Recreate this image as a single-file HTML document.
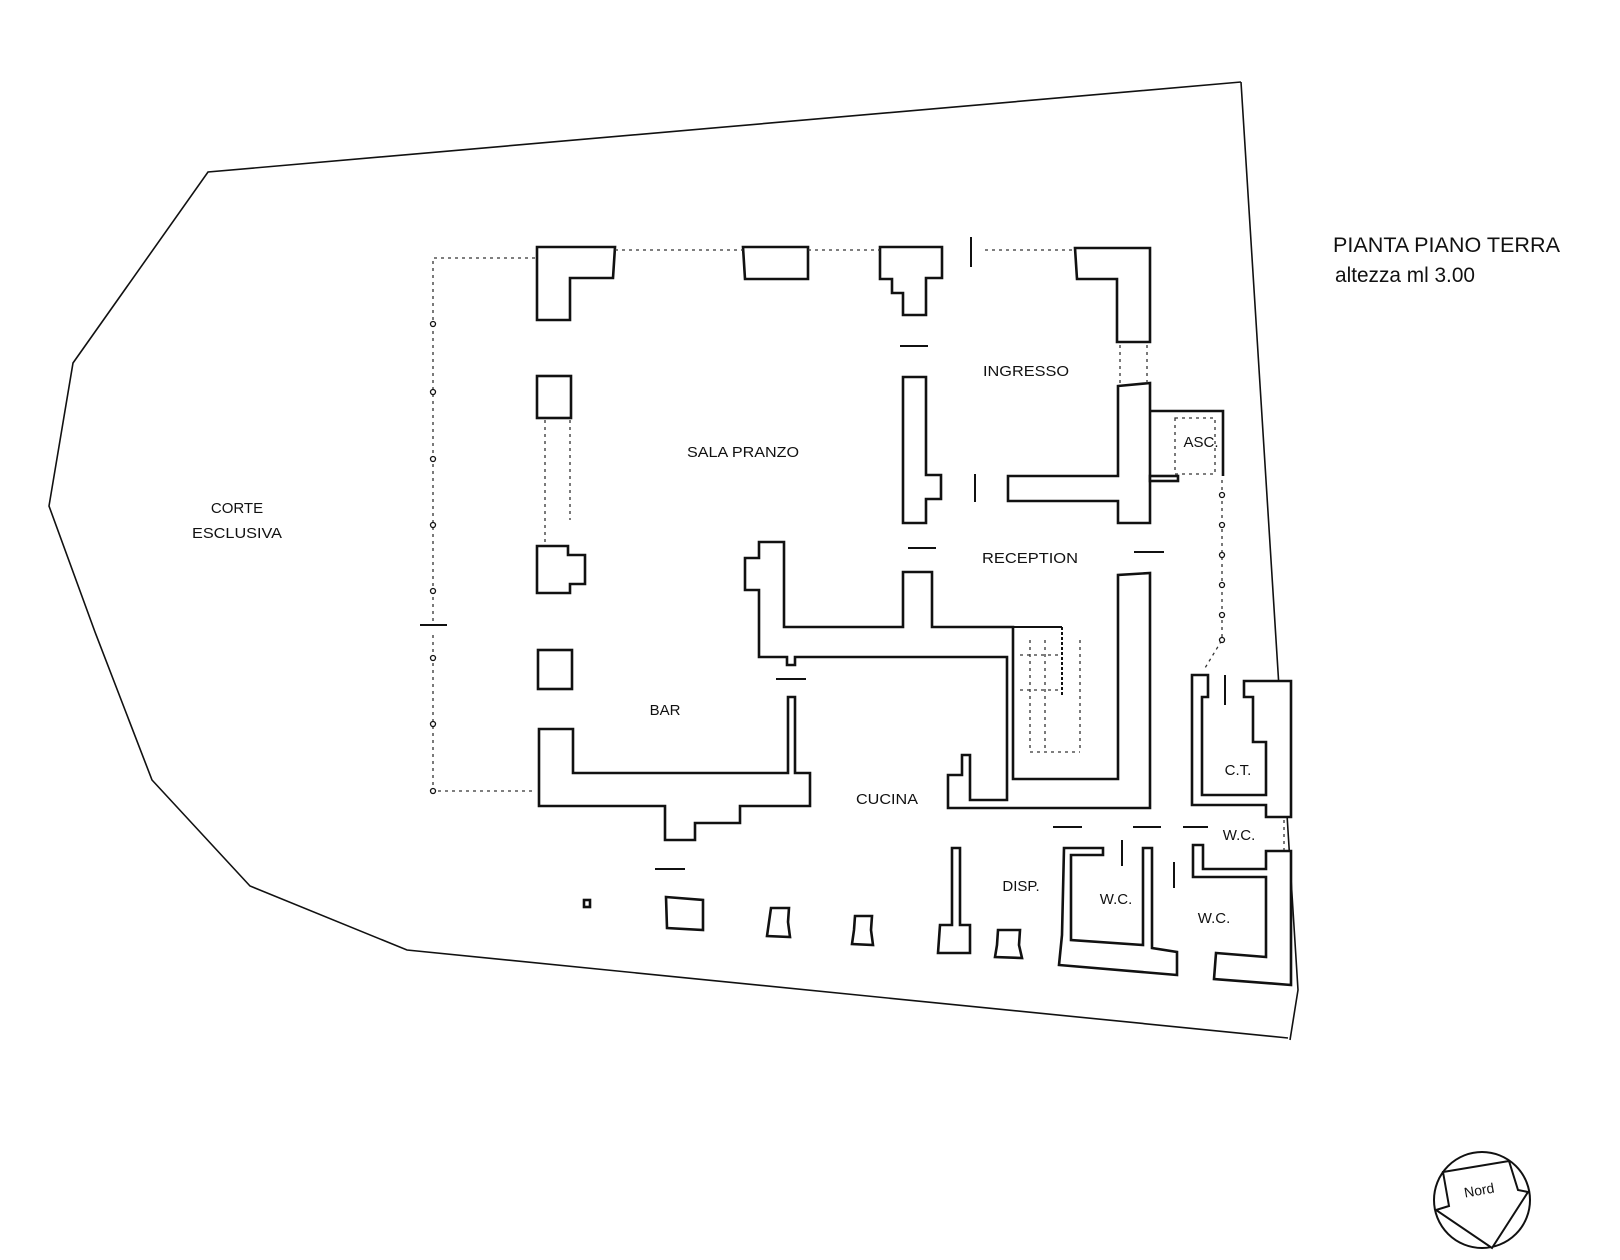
<!DOCTYPE html>
<html><head><meta charset="utf-8"><style>
html,body{margin:0;padding:0;background:#fff;}
svg{display:block;}
text{font-family:"Liberation Sans",sans-serif;fill:#111;}
</style></head><body>
<svg width="1620" height="1260" viewBox="0 0 1620 1260" xmlns="http://www.w3.org/2000/svg">
<g fill="none" stroke="#111" stroke-width="1.6">
<!-- site boundary -->
<polyline points="1241,82 208,172 73,363 49,506 95,632 152,780 250,886 407,950 1288,1038"/>
<polyline points="1241,82 1298,990 1290,1040"/>
</g>
<g fill="#fff" stroke="#111" stroke-width="2.6" stroke-linejoin="miter">
<!-- top row pillars -->
<polygon points="537,247 615,247 613,278 570,278 570,320 537,320"/>
<polygon points="743,247 808,247 808,279 745,279"/>
<polygon points="880,247 942,247 942,278 926,278 926,315 903,315 903,293 892,293 892,279 880,279"/>
<polygon points="1075,248 1150,248 1150,342 1117,342 1117,279 1077,279"/>
<!-- left pillars -->
<rect x="537" y="376" width="34" height="42"/>
<polygon points="537,546 568,546 568,555 585,555 585,584 570,584 570,593 537,593"/>
<rect x="538" y="650" width="34" height="39"/>
<!-- bar L -->
<polygon points="539,729 573,729 573,773 788,773 788,697 795,697 795,773 810,773 810,806 740,806 740,823 695,823 695,840 665,840 665,806 539,806"/>
<!-- ingresso column and T -->
<polygon points="903,377 926,377 926,475 941,475 941,499 926,499 926,523 903,523"/>
<polygon points="1008,476 1118,476 1118,386 1150,383 1150,523 1118,523 1118,501 1008,501"/>
<!-- middle wall -->
<polygon points="745,558 759,558 759,542 784,542 784,627 903,627 903,572 932,572 932,627 1013,627 1013,779 1118,779 1118,575 1150,573 1150,808 948,808 948,775 962,775 962,755 970,755 970,800 1007,800 1007,657 795,657 795,665 787,665 787,657 759,657 759,590 745,590"/>
<!-- C.T. -->
<polygon points="1192,675 1208,675 1208,697 1202,697 1202,795 1266,795 1266,742 1253,742 1253,697 1244,697 1244,681 1291,681 1291,817 1266,817 1266,805 1192,805"/>
<!-- W.C. left -->
<polygon points="1064,848 1103,848 1103,855 1071,855 1071,940 1143,945 1143,848 1152,848 1152,948 1177,952 1177,975 1059,965 1062,935"/>
<!-- W.C. right -->
<polygon points="1193,845 1203,845 1203,869 1266,869 1266,851 1291,851 1291,985 1214,979 1216,953 1266,957 1266,877 1193,877"/>
<!-- bottom row -->
<rect x="584" y="900" width="6" height="7"/>
<polygon points="666,897 703,900 703,930 667,928"/>
<polygon points="771,908 789,908 788,922 790,937 767,936 769,922"/>
<polygon points="855,916 872,916 871,930 873,945 852,944 854,930"/>
<polygon points="952,848 960,848 960,925 970,925 970,953 938,953 940,925 952,925"/>
<polygon points="998,930 1020,930 1019,945 1022,958 995,957 997,945"/>
<!-- ASC -->
<polyline points="1150,411 1223,411 1223,476" fill="none"/>
<rect x="1150" y="476" width="28" height="5"/>
</g>
<g fill="none" stroke="#111" stroke-width="2">
<!-- door ticks and dashes -->
<line x1="971" y1="237" x2="971" y2="267"/>
<line x1="900" y1="346" x2="928" y2="346"/>
<line x1="975" y1="474" x2="975" y2="502"/>
<line x1="908" y1="548" x2="936" y2="548"/>
<line x1="1134" y1="552" x2="1164" y2="552"/>
<line x1="776" y1="679" x2="806" y2="679"/>
<line x1="420" y1="625" x2="447" y2="625"/>
<line x1="655" y1="869" x2="685" y2="869"/>
<line x1="1053" y1="827" x2="1082" y2="827"/>
<line x1="1133" y1="827" x2="1161" y2="827"/>
<line x1="1183" y1="827" x2="1208" y2="827"/>
<line x1="1225" y1="675" x2="1225" y2="705"/>
<line x1="1122" y1="840" x2="1122" y2="866"/>
<line x1="1174" y1="862" x2="1174" y2="888"/>
<line x1="1013" y1="627" x2="1062" y2="627"/>
<line x1="1062" y1="627" x2="1062" y2="695" stroke-dasharray="3,2"/>
</g>
<g fill="none" stroke="#333" stroke-width="1.3" stroke-dasharray="3,4">
<polyline points="535,258 433,258 433,625"/>
<polyline points="433,635 433,791 535,791"/>
<line x1="615" y1="250" x2="743" y2="250"/>
<line x1="808" y1="250" x2="880" y2="250"/>
<line x1="985" y1="250" x2="1075" y2="250"/>
<line x1="545" y1="420" x2="545" y2="545"/>
<line x1="570" y1="420" x2="570" y2="520"/>
<line x1="1120" y1="345" x2="1120" y2="383"/>
<line x1="1147" y1="345" x2="1147" y2="383"/>
<rect x="1175" y="418" width="40" height="56"/>
<polyline points="1222,480 1222,640 1205,668"/>
<line x1="1284" y1="820" x2="1284" y2="850"/>
<line x1="1030" y1="640" x2="1030" y2="750"/>
<line x1="1045" y1="640" x2="1045" y2="750"/>
<line x1="1080" y1="640" x2="1080" y2="750"/>
<line x1="1020" y1="655" x2="1060" y2="655"/>
<line x1="1020" y1="690" x2="1060" y2="690"/>
<line x1="1030" y1="752" x2="1080" y2="752"/>
</g>
<g fill="#fff" stroke="#111" stroke-width="1.3">
<circle cx="433" cy="324" r="2.5"/><circle cx="433" cy="392" r="2.5"/><circle cx="433" cy="459" r="2.5"/>
<circle cx="433" cy="525" r="2.5"/><circle cx="433" cy="591" r="2.5"/><circle cx="433" cy="658" r="2.5"/>
<circle cx="433" cy="724" r="2.5"/><circle cx="433" cy="791" r="2.5"/>
<circle cx="1222" cy="495" r="2.5"/><circle cx="1222" cy="525" r="2.5"/><circle cx="1222" cy="555" r="2.5"/>
<circle cx="1222" cy="585" r="2.5"/><circle cx="1222" cy="615" r="2.5"/><circle cx="1222" cy="640" r="2.5"/>
</g>
<!-- labels -->
<g font-size="15" text-anchor="middle">
<text x="743" y="457" textLength="112" lengthAdjust="spacingAndGlyphs">SALA PRANZO</text>
<text x="1026" y="376" textLength="86" lengthAdjust="spacingAndGlyphs">INGRESSO</text>
<text x="1030" y="563" textLength="96" lengthAdjust="spacingAndGlyphs">RECEPTION</text>
<text x="665" y="715">BAR</text>
<text x="887" y="804" textLength="62" lengthAdjust="spacingAndGlyphs">CUCINA</text>
<text x="1021" y="891">DISP.</text>
<text x="1116" y="904">W.C.</text>
<text x="1214" y="923">W.C.</text>
<text x="1238" y="775">C.T.</text>
<text x="1239" y="840">W.C.</text>
<text x="1201" y="447">ASC.</text>
<text x="237" y="513">CORTE</text>
<text x="237" y="538" textLength="90" lengthAdjust="spacingAndGlyphs">ESCLUSIVA</text>
</g>
<text x="1333" y="252" font-size="21" textLength="227" lengthAdjust="spacingAndGlyphs">PIANTA PIANO TERRA</text>
<text x="1335" y="282" font-size="21" textLength="140" lengthAdjust="spacingAndGlyphs">altezza ml 3.00</text>
<!-- compass -->
<circle cx="1482" cy="1200" r="48" fill="none" stroke="#111" stroke-width="2"/>
<polygon points="1443,1172 1509,1161 1518,1190 1528,1192 1492,1248 1436,1210 1449,1206" fill="#fff" stroke="#111" stroke-width="2"/>
<text x="1480" y="1195" font-size="14" text-anchor="middle" transform="rotate(-10 1480 1195)">Nord</text>
</svg>
</body></html>
